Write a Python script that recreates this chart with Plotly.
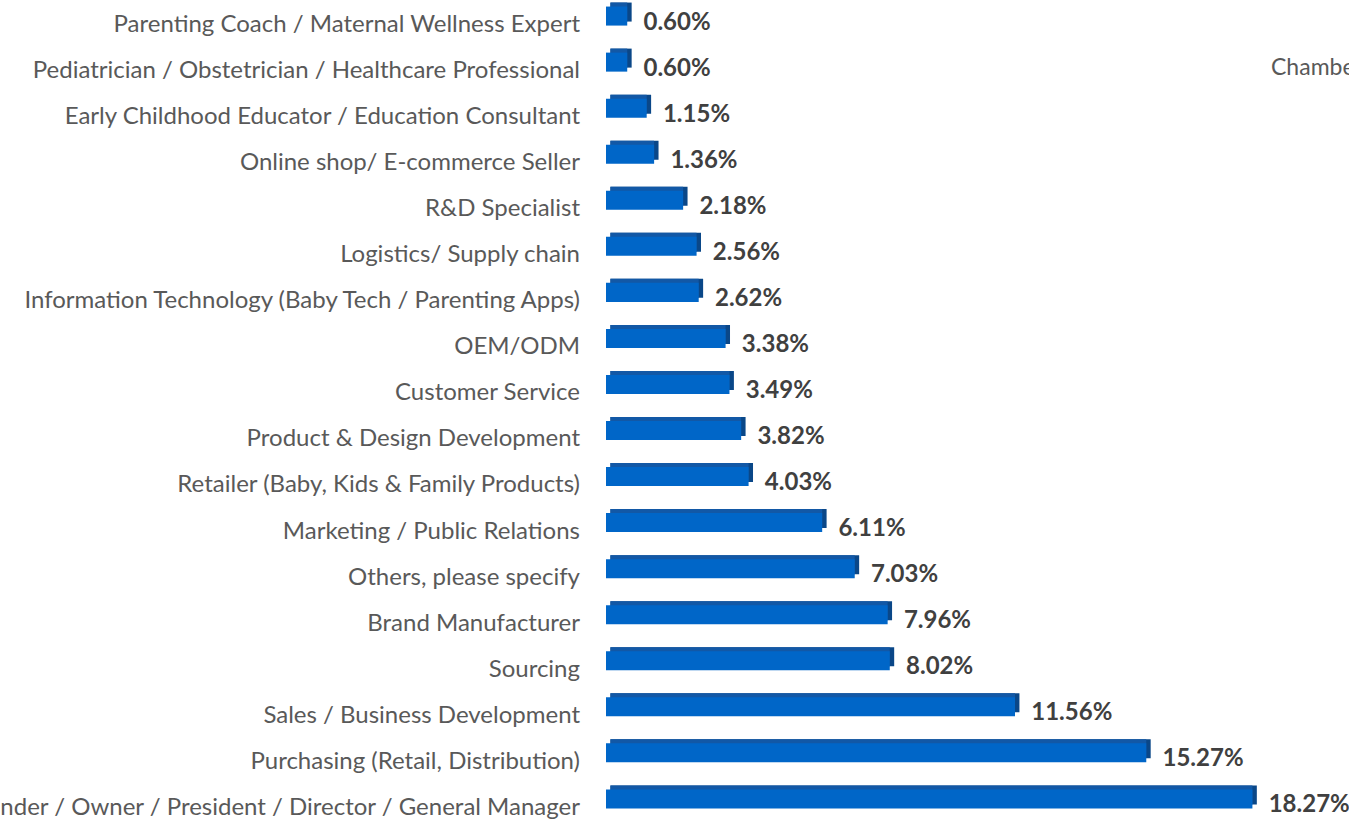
import plotly.graph_objects as go

categories = [
    "Parenting Coach / Maternal Wellness Expert",
    "Pediatrician / Obstetrician / Healthcare Professional",
    "Early Childhood Educator / Education Consultant",
    "Online shop/ E-commerce Seller",
    "R&D Specialist",
    "Logistics/ Supply chain",
    "Information Technology (Baby Tech / Parenting Apps)",
    "OEM/ODM",
    "Customer Service",
    "Product & Design Development",
    "Retailer (Baby, Kids & Family Products)",
    "Marketing / Public Relations",
    "Others, please specify",
    "Brand Manufacturer",
    "Sourcing",
    "Sales / Business Development",
    "Purchasing (Retail, Distribution)",
    "Founder / Owner / President / Director / General Manager",
]
values = [0.60, 0.60, 1.15, 1.36, 2.18, 2.56, 2.62, 3.38, 3.49, 3.82,
          4.03, 6.11, 7.03, 7.96, 8.02, 11.56, 15.27, 18.27]
value_labels = [f"{v:.2f}%" for v in values]

FRONT = "#0066C8"
TOP = "#1258A6"
SIDE = "#0A4788"

pos = list(range(len(categories)))
bar_shift = -0.163
depth_y = 0.087
depth_x = 0.125
bar_w = 0.413

fig = go.Figure()
# back face (shows as right side)
fig.add_trace(go.Bar(
    orientation="h", y=[p + bar_shift - depth_y for p in pos], x=values,
    base=[depth_x] * len(values), width=bar_w, marker=dict(color=SIDE, line_width=0),
    hoverinfo="skip", showlegend=False))
# top face
fig.add_trace(go.Bar(
    orientation="h", y=[p + bar_shift - depth_y for p in pos], x=[v - depth_x for v in values],
    base=[depth_x] * len(values), width=bar_w, marker=dict(color=TOP, line_width=0),
    hoverinfo="skip", showlegend=False))
# front face
fig.add_trace(go.Bar(
    orientation="h", y=[p + bar_shift for p in pos], x=values,
    width=bar_w, marker=dict(color=FRONT, line_width=0),
    showlegend=False))
# value labels
fig.add_trace(go.Scatter(
    x=[v + 0.46 for v in values], y=pos, mode="text", text=value_labels,
    textposition="middle right",
    textfont=dict(family="Lato", size=24, color="#404040", weight="bold"),
    showlegend=False, hoverinfo="skip", cliponaxis=False))

fig.add_annotation(text="Chamber", xref="paper", yref="paper", x=0.892, y=0.92,
                   xanchor="left", yanchor="middle", showarrow=False,
                   font=dict(family="Lato", size=23, color="#595959"))

fig.update_layout(
    width=1349, height=820,
    margin=dict(l=606, r=0, t=0, b=0, autoexpand=False),
    paper_bgcolor="white", plot_bgcolor="white",
    barmode="overlay",
    xaxis=dict(range=[0, 21.0], visible=False),
    yaxis=dict(range=[17.295, -0.512], tickvals=pos, ticktext=categories,
               showgrid=False, zeroline=False, showline=False, ticks="",
               ticklabelstandoff=25, automargin=False,
               tickfont=dict(family="Lato", size=24, color="#595959")),
    font=dict(family="Lato"),
)

fig.write_html("out.html", config={"displayModeBar": False},
               post_script="document.body.style.margin = '0';")
